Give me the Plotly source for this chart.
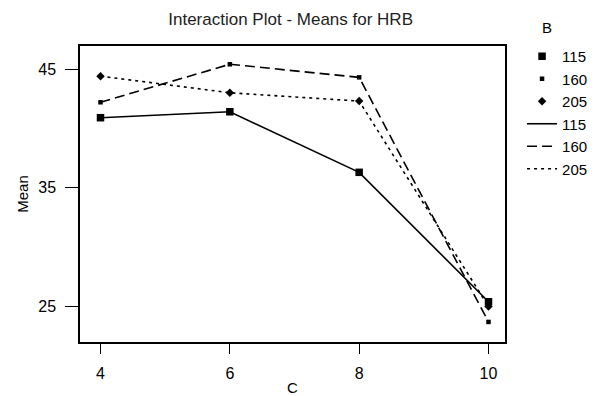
import plotly.graph_objects as go

# Factor levels and cell means of HRB
c_levels = [4, 6, 8, 10]
b_levels = ["115", "160", "205"]
mean_b115 = [40.9, 41.4, 36.3, 25.4]
mean_b160 = [42.2, 45.4, 44.3, 23.7]
mean_b205 = [44.4, 43.0, 42.3, 25.0]
y_ticks = [25, 35, 45]

series = [mean_b115, mean_b160, mean_b205]
symbols = ["square", "square", "diamond"]
sizes = [7.5, 4.5, 6.5]
dashes = ["solid", "10px,5px", "3px,4px"]

fig = go.Figure()
for vals, sym, sz, dash in zip(series, symbols, sizes, dashes):
    fig.add_trace(go.Scatter(
        x=c_levels, y=vals, mode="lines+markers",
        line=dict(color="black", width=1.6, dash=dash),
        marker=dict(symbol=sym, size=sz, color="black"),
        showlegend=False,
    ))

# Legend: symbol keys first, then line-style keys
for name, sym, sz in zip(b_levels, symbols, sizes):
    fig.add_trace(go.Scatter(
        x=[None], y=[None], mode="markers", name=name,
        marker=dict(symbol=sym, size=sz, color="black"),
    ))
for name, dash in zip(b_levels, dashes):
    fig.add_trace(go.Scatter(
        x=[None], y=[None], mode="lines", name=name,
        line=dict(color="black", width=1.6, dash=dash),
    ))

font = "Liberation Sans, Arial, sans-serif"
axis_common = dict(ticks="outside", tickwidth=1.3, tickcolor="black",
                   showgrid=False, zeroline=False, showline=True, linecolor="black",
                   linewidth=1.5, mirror=True, tickfont=dict(size=16), automargin=False)
fig.update_layout(
    width=598, height=396,
    margin=dict(l=80, r=93, t=46, b=54),
    paper_bgcolor="white", plot_bgcolor="white",
    font=dict(family=font, size=15, color="black"),
    title=dict(text="Interaction Plot - Means for HRB", x=0.486, xanchor="center",
               y=0.952, yanchor="middle", font=dict(size=17, color="#222")),
    legend=dict(xref="container", yref="container", x=0.873, xanchor="left",
                y=0.899, yanchor="top", font=dict(size=15), tracegroupgap=0,
                itemwidth=30, bgcolor="rgba(0,0,0,0)"),
    annotations=[dict(text="B", xref="paper", yref="paper", x=1.098, y=1.061,
                      xanchor="center", yanchor="middle", showarrow=False,
                      font=dict(size=15))],
    xaxis=dict(range=[3.683, 10.255], tickvals=c_levels, ticklen=10, ticklabelstandoff=6,
               title=dict(text="C", standoff=6, font=dict(size=15)), **axis_common),
    yaxis=dict(range=[22.01, 46.94], tickvals=y_ticks, ticklen=13, ticklabelstandoff=6,
               title=dict(text="Mean", standoff=6, font=dict(size=15)), **axis_common),
)

fig.write_html("out.html")
